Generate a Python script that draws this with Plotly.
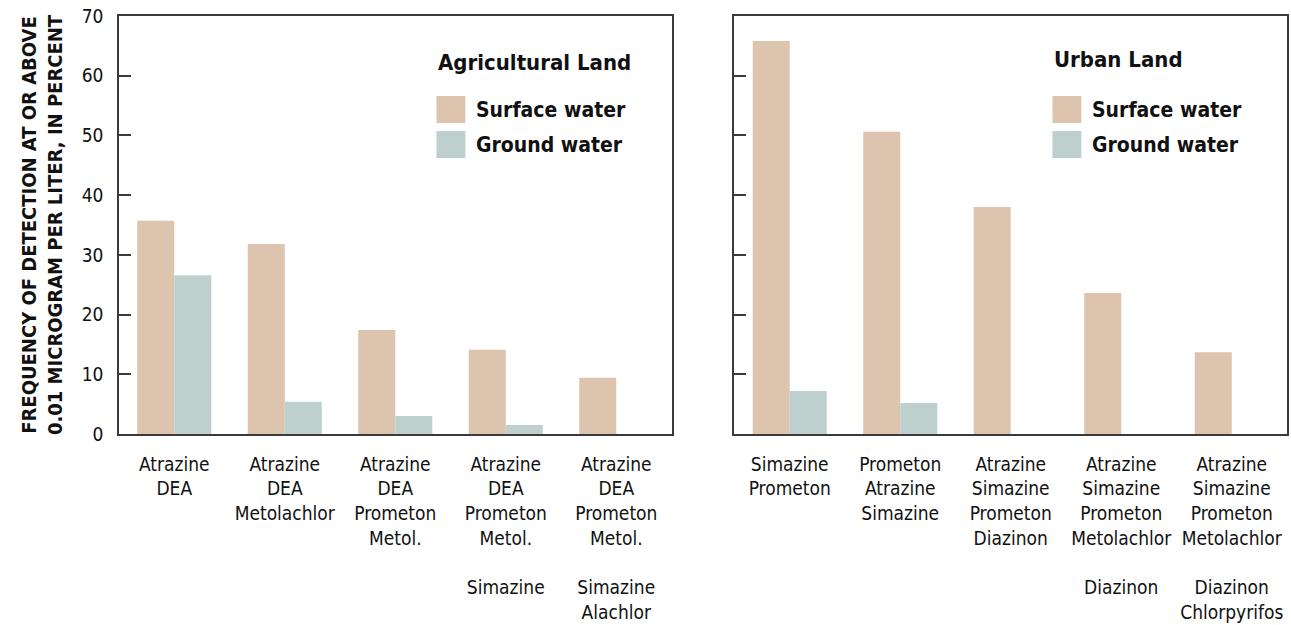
import plotly.graph_objects as go
from plotly.subplots import make_subplots

# ---------------- data ----------------
agri_labels = [
    "Atrazine<br>DEA",
    "Atrazine<br>DEA<br>Metolachlor",
    "Atrazine<br>DEA<br>Prometon<br>Metol.",
    "Atrazine<br>DEA<br>Prometon<br>Metol.<br> <br>Simazine",
    "Atrazine<br>DEA<br>Prometon<br>Metol.<br> <br>Simazine<br>Alachlor",
]
agri_surface = [35.7, 31.8, 17.4, 14.1, 9.4]
agri_ground = [26.6, 5.4, 3.0, 1.5, 0]

urban_labels = [
    "Simazine<br>Prometon",
    "Prometon<br>Atrazine<br>Simazine",
    "Atrazine<br>Simazine<br>Prometon<br>Diazinon",
    "Atrazine<br>Simazine<br>Prometon<br>Metolachlor<br> <br>Diazinon",
    "Atrazine<br>Simazine<br>Prometon<br>Metolachlor<br> <br>Diazinon<br>Chlorpyrifos",
]
urban_surface = [65.8, 50.6, 38.0, 23.6, 13.7]
urban_ground = [7.2, 5.2, 0, 0, 0]

y_ticks = [0, 10, 20, 30, 40, 50, 60, 70]
series_names = ["Surface water", "Ground water"]
panel_titles = ["Agricultural Land", "Urban Land"]
y_title = "FREQUENCY OF DETECTION AT OR ABOVE<br>0.01 MICROGRAM PER LITER, IN PERCENT"

SURF = "#DCC4AE"
GRND = "#BDD0CE"
LINE = "#3a3a3a"
FONT = "DejaVu Sans Condensed, Liberation Sans Narrow, DejaVu Sans, sans-serif"

W, H = 1291, 625
ML, MR, MT, MB = 119, 2, 16, 191

fig = make_subplots(rows=1, cols=2, horizontal_spacing=0.0539)

fig.add_trace(go.Bar(x=agri_labels, y=agri_surface, name=series_names[0],
                     marker=dict(color=SURF, line=dict(width=0)), showlegend=False), row=1, col=1)
fig.add_trace(go.Bar(x=agri_labels, y=agri_ground, name=series_names[1],
                     marker=dict(color=GRND, line=dict(width=0)), showlegend=False), row=1, col=1)
fig.add_trace(go.Bar(x=urban_labels, y=urban_surface, name=series_names[0],
                     marker=dict(color=SURF, line=dict(width=0)), showlegend=False), row=1, col=2)
fig.add_trace(go.Bar(x=urban_labels, y=urban_ground, name=series_names[1],
                     marker=dict(color=GRND, line=dict(width=0)), showlegend=False), row=1, col=2)

axis_common = dict(showline=True, mirror=True, linecolor=LINE, linewidth=1.5,
                   showgrid=False, zeroline=False)

fig.update_xaxes(**axis_common, ticks="", ticklabelstandoff=12,
                 tickfont=dict(family=FONT, size=19, color="#111"))
fig.update_yaxes(**axis_common, range=[0, 70], tickvals=y_ticks, ticks="inside",
                 ticklen=12, tickwidth=1.5, tickcolor=LINE,
                 tickfont=dict(family=FONT, size=19, color="#111"))
fig.update_yaxes(row=1, col=1, ticklabelstandoff=10,
                 title=dict(text=y_title, standoff=14,
                            font=dict(family=FONT, size=20, color="#111", weight="bold")))
fig.update_yaxes(row=1, col=2, showticklabels=False)

pw = W - ML - MR
ph = H - MT - MB


def px_x(p):
    return (p - ML) / pw


def px_y(p):
    return (H - MB - p) / ph


annotations = []
shapes = []
legend_pos = [(437, 62), (1054, 59)]
for (lx, ty), title in zip(legend_pos, panel_titles):
    annotations.append(dict(text="<b>" + title + "</b>", x=px_x(lx), y=px_y(ty),
                            xref="paper", yref="paper", xanchor="left", yanchor="middle",
                            showarrow=False, font=dict(family=FONT, size=22, color="#111")))
    for i, (nm, col) in enumerate(zip(series_names, [SURF, GRND])):
        top = 96 + i * 35
        shapes.append(dict(type="rect", xref="paper", yref="paper",
                           x0=px_x(lx), x1=px_x(lx + 29), y0=px_y(top), y1=px_y(top + 27),
                           fillcolor=col, line=dict(width=0)))
        annotations.append(dict(text="<b>" + nm + "</b>", x=px_x(lx + 38), y=px_y(top + 13.5),
                                xref="paper", yref="paper", xanchor="left", yanchor="middle",
                                showarrow=False, font=dict(family=FONT, size=21, color="#111")))

fig.update_layout(
    width=W, height=H,
    margin=dict(l=ML, r=MR, t=MT, b=MB),
    paper_bgcolor="white", plot_bgcolor="white",
    barmode="group", bargap=0.33, bargroupgap=0.0,
    font=dict(family=FONT, color="#111"),
    annotations=annotations, shapes=shapes,
    showlegend=False,
)

fig.write_html("out.html",
               config={"displayModeBar": False},
               post_script="document.body.style.margin='0';document.body.style.overflow='hidden';")
